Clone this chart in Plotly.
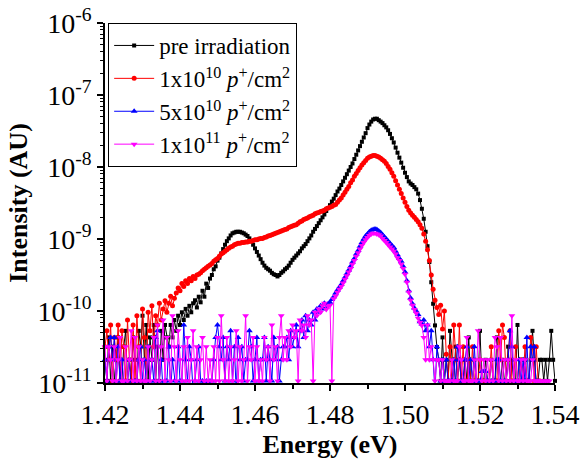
import plotly.graph_objects as go

# ---------------- data ----------------
energy_start = 1.42
energy_step = 0.0005
energy = [round(energy_start + energy_step * k, 4) for k in range(241)]

# pre irradiation
black_low = [2.1e-11, 1.07e-11, 4.3e-11, 1.07e-11, 3.2e-11, 1.07e-11, 2.1e-11, 4.3e-11, 1.07e-11, 1.07e-11,
             3.2e-11, 5.3e-11, 1.07e-11, 2.1e-11, 1.07e-11, 4.3e-11, 2.1e-11, 1.07e-11, 5.3e-11, 3.2e-11,
             8.6e-11, 2.1e-11, 6.4e-11, 1.07e-11, 4.3e-11, 2.1e-11, 6.4e-11, 1.07e-11, 3.2e-11, 1.07e-11,
             5.3e-11, 2.1e-11, 6.4e-11, 4.3e-11, 3.2e-11, 6.4e-11, 4.3e-11, 7.5e-11, 5.3e-11, 8.6e-11,
             6.4e-11, 9.6e-11, 7.5e-11, 1.07e-10, 8.6e-11, 1.18e-10, 9.6e-11, 1.28e-10]
black_band = [1.41e-10, 1.12e-10, 1.58e-10, 1.32e-10, 1.91e-10, 1.58e-10, 2.40e-10, 2.09e-10, 2.82e-10, 3.16e-10,
              3.80e-10, 4.17e-10, 5.01e-10, 5.50e-10, 6.31e-10, 7.24e-10, 8.32e-10, 9.33e-10, 1.02e-9, 1.12e-9,
              1.20e-9, 1.23e-9, 1.26e-9, 1.26e-9, 1.26e-9, 1.23e-9, 1.20e-9, 1.15e-9, 1.10e-9, 1.02e-9,
              9.33e-10, 8.32e-10, 7.41e-10, 6.61e-10, 5.89e-10, 5.25e-10, 4.68e-10, 4.27e-10, 3.98e-10, 3.80e-10,
              3.63e-10, 3.39e-10, 3.24e-10, 3.16e-10, 3.02e-10, 3.16e-10, 3.39e-10, 3.55e-10, 3.80e-10, 3.98e-10,
              4.27e-10, 4.68e-10, 5.13e-10, 5.50e-10, 5.89e-10, 6.31e-10, 6.76e-10, 7.41e-10, 7.94e-10, 8.51e-10,
              9.33e-10, 1.02e-9, 1.12e-9, 1.26e-9, 1.38e-9, 1.51e-9, 1.66e-9, 1.82e-9, 2.00e-9, 2.19e-9,
              2.45e-9, 2.69e-9, 2.95e-9, 3.31e-9, 3.63e-9, 4.07e-9, 4.57e-9, 5.01e-9, 5.62e-9, 6.31e-9,
              7.08e-9, 7.94e-9, 8.91e-9, 1.00e-8, 1.12e-8, 1.29e-8, 1.48e-8, 1.70e-8, 1.95e-8, 2.24e-8,
              2.57e-8, 2.95e-8, 3.47e-8, 3.89e-8, 4.27e-8, 4.57e-8, 4.68e-8, 4.68e-8, 4.47e-8, 4.27e-8,
              4.07e-8, 3.80e-8, 3.55e-8, 3.24e-8, 2.88e-8, 2.51e-8, 2.19e-8, 1.86e-8, 1.58e-8, 1.35e-8,
              1.15e-8, 9.77e-9, 8.32e-9, 7.24e-9, 6.31e-9, 5.89e-9, 5.62e-9, 5.25e-9, 4.90e-9, 4.27e-9,
              3.47e-9, 2.63e-9, 1.91e-9, 1.26e-9, 7.94e-10, 4.79e-10, 2.51e-10, 1.26e-10, 6.31e-11, 3.16e-11]
black_high = [2.1e-11, 1.07e-11, 4.3e-11, 1.07e-11, 2.1e-11, 1.07e-11, 5.3e-11, 2.1e-11, 1.07e-11, 3.2e-11,
              1.07e-11, 2.1e-11, 1.07e-11, 1.07e-11, 2.1e-11, 1.07e-11, 4.3e-11, 1.07e-11, 1.07e-11, 2.1e-11,
              1.07e-11, 1.07e-11, 5.3e-11, 1.07e-11, 1.07e-11, 2.1e-11, 1.07e-11, 1.07e-11, 2.1e-11, 1.07e-11,
              1.07e-11, 4.3e-11, 1.07e-11, 1.07e-11, 2.1e-11, 1.07e-11, 1.07e-11, 3.2e-11, 1.07e-11, 2.1e-11,
              1.07e-11, 1.07e-11, 6.4e-11, 1.07e-11, 2.1e-11, 1.07e-11, 2.1e-11, 1.07e-11, 1.07e-11, 2.1e-11,
              5.3e-11, 2.1e-11, 1.07e-11, 1.07e-11, 2.1e-11, 2.1e-11, 1.07e-11, 2.1e-11, 1.07e-11, 2.1e-11,
              5.3e-11, 2.1e-11, 1.07e-11]

# 1x10^10 p+/cm^2
red_low = [3.2e-11, 5.3e-11, 2.1e-11, 6.4e-11, 1.07e-11, 4.3e-11, 2.1e-11, 6.4e-11, 1.07e-11, 5.3e-11,
           3.2e-11, 1.07e-11, 7.5e-11, 2.1e-11, 1.07e-11, 6.4e-11, 1.07e-11, 8.6e-11, 3.2e-11, 1.07e-11,
           1.07e-10, 4.3e-11, 1.07e-11, 9.6e-11, 5.3e-11, 1.18e-10, 3.2e-11, 8.6e-11, 6.4e-11, 1.28e-10,
           7.5e-11, 1.07e-10, 1.39e-10, 9.6e-11, 1.28e-10, 1.6e-10, 1.18e-10, 1.5e-10]
red_band = [1.78e-10, 2.09e-10, 1.91e-10, 2.40e-10, 2.19e-10, 2.63e-10, 2.40e-10, 2.82e-10, 2.63e-10, 3.02e-10,
            2.82e-10, 3.16e-10, 3.24e-10, 3.39e-10, 3.63e-10, 3.80e-10, 3.98e-10, 4.17e-10, 4.37e-10, 4.57e-10,
            4.90e-10, 5.13e-10, 5.37e-10, 5.75e-10, 6.17e-10, 6.46e-10, 6.76e-10, 7.08e-10, 7.41e-10, 7.76e-10,
            7.94e-10, 8.32e-10, 8.51e-10, 8.71e-10, 8.71e-10, 8.91e-10, 8.91e-10, 9.12e-10, 9.12e-10, 9.33e-10,
            9.33e-10, 9.55e-10, 9.77e-10, 9.77e-10, 1.00e-9, 1.02e-9, 1.02e-9, 1.05e-9, 1.07e-9, 1.10e-9,
            1.12e-9, 1.15e-9, 1.17e-9, 1.20e-9, 1.23e-9, 1.26e-9, 1.29e-9, 1.32e-9, 1.35e-9, 1.38e-9,
            1.45e-9, 1.48e-9, 1.51e-9, 1.55e-9, 1.58e-9, 1.66e-9, 1.74e-9, 1.78e-9, 1.86e-9, 1.91e-9,
            1.95e-9, 2.04e-9, 2.09e-9, 2.14e-9, 2.24e-9, 2.29e-9, 2.34e-9, 2.40e-9, 2.45e-9, 2.51e-9,
            2.63e-9, 2.69e-9, 2.75e-9, 2.82e-9, 2.95e-9, 3.02e-9, 3.24e-9, 3.47e-9, 3.72e-9, 4.07e-9,
            4.47e-9, 4.90e-9, 5.37e-9, 6.03e-9, 6.61e-9, 7.41e-9, 8.13e-9, 8.91e-9, 9.77e-9, 1.07e-8,
            1.15e-8, 1.23e-8, 1.32e-8, 1.38e-8, 1.41e-8, 1.45e-8, 1.45e-8, 1.41e-8, 1.38e-8, 1.32e-8,
            1.26e-8, 1.20e-8, 1.12e-8, 1.02e-8, 9.33e-9, 8.32e-9, 7.41e-9, 6.46e-9, 5.62e-9, 4.90e-9,
            4.27e-9, 3.72e-9, 3.24e-9, 2.82e-9, 2.51e-9, 2.29e-9, 2.14e-9, 2.00e-9, 1.86e-9, 1.74e-9,
            1.58e-9, 1.41e-9, 1.17e-9, 9.33e-10, 7.08e-10, 5.01e-10, 3.16e-10, 2.00e-10, 1.41e-10, 1.12e-10,
            8.91e-11, 1.20e-10, 5.62e-11, 1.00e-10, 2.51e-11]
red_high = [1.07e-11, 3.2e-11, 1.07e-11, 6.4e-11, 2.1e-11, 1.07e-11, 6.4e-11, 1.07e-11, 3.2e-11, 1.07e-11,
            1.07e-11, 2.1e-11, 1.07e-11, 3.2e-11, 1.07e-11, 1.07e-11, 1.07e-11, 2.1e-11, 1.07e-11, 1.07e-11,
            1.07e-11, 1.07e-11, 1.07e-11, 3.2e-11, 1.07e-11, 1.07e-11, 1.07e-11, 5.3e-11, 2.1e-11, 6.4e-11,
            4.3e-11, 1.07e-11, 2.1e-11, 5.3e-11, 1.07e-11, 1.07e-11, 3.2e-11, 1.07e-11, 1.07e-11, 2.1e-11,
            1.07e-11, 3.2e-11, 1.07e-11, 1.07e-11, 4.3e-11, 3.2e-11, 1.07e-11, 3.2e-11, 1.07e-11, 1.07e-11]

# 5x10^10 p+/cm^2
blue_low = [2.1e-11, 1.07e-11, 3.2e-11, 4.3e-11, 2.1e-11, 4.3e-11, 1.07e-11, 3.2e-11, 1.07e-11, 2.1e-11,
            1.07e-11, 7.5e-12, 1.07e-11, 2.1e-11, 7.5e-12, 7.5e-12, 1.07e-11, 1.07e-11, 2.1e-11, 3.2e-11,
            1.07e-11, 2.1e-11, 1.07e-11, 3.2e-11, 1.07e-11, 2.1e-11, 1.07e-11, 4.3e-11, 5.3e-11, 1.07e-11,
            2.1e-11, 7.5e-12, 1.07e-11, 1.07e-11, 3.2e-11, 7.5e-12, 2.1e-11, 1.07e-11, 7.5e-12, 3.2e-11,
            1.07e-11, 1.07e-11, 6.4e-11, 2.1e-11, 1.07e-11, 3.2e-11, 2.1e-11, 7.5e-12, 1.07e-11, 2.1e-11,
            3.2e-11, 1.07e-11, 1.07e-11, 7.5e-12, 1.07e-11, 7.5e-12, 1.07e-11, 1.07e-11, 2.1e-11, 4.3e-11,
            6.4e-11, 3.2e-11, 2.1e-11, 4.3e-11, 1.07e-11, 3.2e-11, 2.1e-11, 5.3e-11, 1.07e-11, 3.2e-11,
            7.5e-12, 4.3e-11, 2.1e-11, 3.2e-11, 1.07e-11, 2.1e-11, 2.1e-11, 5.3e-11, 3.2e-11, 1.07e-11,
            2.1e-11, 4.3e-11, 1.07e-11, 2.1e-11, 2.1e-11, 4.3e-11, 1.07e-11, 3.2e-11, 2.1e-11, 1.07e-11,
            4.3e-11, 2.1e-11, 3.2e-11, 1.07e-11, 2.1e-11, 3.2e-11, 3.2e-11, 4.3e-11, 2.1e-11, 5.3e-11,
            3.2e-11, 4.3e-11, 6.4e-11, 3.2e-11, 5.3e-11, 7.5e-11, 4.3e-11, 8.6e-11, 5.3e-11, 7.5e-11,
            6.4e-11, 9.6e-11, 7.5e-11, 1.07e-10, 9.6e-11, 1.18e-10, 1.07e-10, 1.28e-10]
blue_band = [1.12e-10, 1.26e-10, 1.32e-10, 1.45e-10, 1.58e-10, 1.78e-10, 1.95e-10, 2.14e-10, 2.34e-10, 2.63e-10,
             2.95e-10, 3.31e-10, 3.72e-10, 4.17e-10, 4.79e-10, 5.37e-10, 6.17e-10, 6.92e-10, 7.94e-10, 8.91e-10,
             1.00e-9, 1.10e-9, 1.17e-9, 1.26e-9, 1.32e-9, 1.35e-9, 1.38e-9, 1.35e-9, 1.29e-9, 1.23e-9,
             1.15e-9, 1.07e-9, 1.00e-9, 9.33e-10, 8.71e-10, 8.13e-10, 7.59e-10, 6.76e-10, 6.03e-10, 5.37e-10,
             4.90e-10, 4.17e-10, 3.47e-10, 2.63e-10, 1.91e-10, 1.51e-10, 1.26e-10, 1.10e-10, 1.00e-10, 8.91e-11,
             7.08e-11, 6.61e-11]
blue_high = [7.5e-11, 5.3e-11, 6.4e-11, 3.2e-11, 5.3e-11, 2.1e-11, 7.5e-12, 3.2e-11, 2.1e-11, 1.07e-11,
             2.1e-11, 1.07e-11, 2.1e-11, 1.07e-11, 1.07e-11, 1.07e-11, 2.1e-11, 1.07e-11, 3.2e-11, 2.1e-11,
             1.07e-11, 1.07e-11, 2.1e-11, 3.2e-11, 1.07e-11, 2.1e-11, 1.07e-11, 3.2e-11, 1.07e-11, 1.07e-11,
             1.07e-11, 1.45e-11, 1.45e-11, 1.45e-11, 1.07e-11, 1.07e-11, 1.07e-11, 1.07e-11, 1.07e-11, 2.1e-11,
             2.1e-11, 1.07e-11, 1.07e-11, 1.07e-11, 1.07e-11, 2.1e-11, 5.3e-11, 3.2e-11, 1.07e-11, 1.07e-11,
             1.07e-11, 2.1e-11, 1.07e-11, 2.1e-11, 1.07e-11, 4.3e-11, 7.5e-12, 3.2e-11, 2.1e-11, 3.2e-11,
             7.5e-12, 1.07e-11]

# 1x10^11 p+/cm^2
mag_low = [3.2e-11, 1.07e-11, 3.2e-11, 2.1e-11, 1.07e-11, 3.2e-11, 1.07e-11, 2.1e-11, 4.3e-11, 1.07e-11,
           1.07e-11, 3.2e-11, 1.07e-11, 2.1e-11, 5.3e-11, 1.07e-11, 4.3e-11, 1.07e-11, 3.2e-11, 1.07e-11,
           2.1e-11, 1.07e-11, 1.07e-11, 3.2e-11, 1.07e-11, 2.1e-11, 4.3e-11, 1.07e-11, 6.4e-11, 1.07e-11,
           3.2e-11, 7.5e-11, 1.07e-11, 4.3e-11, 2.1e-11, 1.07e-11, 8.6e-11, 3.2e-11, 1.07e-11, 5.3e-11,
           2.1e-11, 1.07e-11, 3.2e-11, 1.07e-11, 4.3e-11, 1.07e-11, 2.1e-11, 5.3e-11, 1.07e-11, 3.2e-11,
           1.07e-11, 2.1e-11, 4.3e-11, 1.07e-11, 3.2e-11, 1.07e-11, 2.1e-11, 1.07e-11, 3.2e-11, 1.07e-11,
           4.3e-11, 1.07e-11, 8.6e-11, 2.1e-11, 1.07e-11, 4.3e-11, 1.07e-11, 3.2e-11, 1.07e-11, 2.1e-11,
           5.3e-11, 1.07e-11, 3.2e-11, 1.07e-11, 2.1e-11, 8.6e-11, 1.07e-11, 3.2e-11, 2.1e-11, 4.3e-11,
           1.07e-11, 3.2e-11, 1.07e-11, 2.1e-11, 1.07e-11, 4.3e-11, 2.1e-11, 3.2e-11, 1.07e-11, 6.4e-11,
           2.1e-11, 3.2e-11, 1.07e-11, 4.3e-11, 8.6e-11, 2.1e-11, 4.3e-11, 2.1e-11, 5.3e-11, 3.2e-11,
           6.4e-11, 4.3e-11, 5.3e-11, 1.07e-11, 7.5e-11, 5.3e-11, 6.4e-11, 4.3e-11, 8.6e-11, 6.4e-11,
           7.5e-11, 1.07e-11, 9.6e-11, 8.6e-11, 1.07e-10, 9.6e-11, 1.18e-10, 1.28e-10]
mag_band = [1.05e-10, 1.17e-10, 1.20e-10, 1.07e-11, 1.48e-10, 1.62e-10, 1.82e-10, 2.00e-10, 2.19e-10, 2.45e-10,
            2.75e-10, 3.09e-10, 3.47e-10, 3.89e-10, 4.47e-10, 5.01e-10, 5.75e-10, 6.46e-10, 7.24e-10, 8.13e-10,
            8.91e-10, 9.77e-10, 1.05e-9, 1.12e-9, 1.17e-9, 1.20e-9, 1.20e-9, 1.17e-9, 1.15e-9, 1.10e-9,
            1.02e-9, 9.55e-10, 8.91e-10, 8.32e-10, 7.76e-10, 7.24e-10, 6.76e-10, 6.17e-10, 5.50e-10, 5.01e-10,
            4.47e-10, 3.89e-10, 3.24e-10, 2.51e-10, 1.82e-10, 1.41e-10, 1.20e-10, 1.05e-10, 9.33e-11, 7.94e-11,
            6.92e-11, 6.31e-11]
mag_high = [4.3e-11, 2.1e-11, 6.4e-11, 2.1e-11, 3.2e-11, 2.1e-11, 1.07e-11, 2.1e-11, 2.1e-11, 1.07e-11,
            2.1e-11, 1.07e-11, 1.07e-11, 1.07e-11, 1.07e-11, 2.1e-11, 1.07e-11, 1.07e-11, 1.07e-11, 3.2e-11,
            2.1e-11, 1.07e-11, 1.07e-11, 4.3e-11, 1.07e-11, 1.07e-11, 1.07e-11, 2.1e-11, 1.07e-11, 5.3e-11,
            2.1e-11, 1.07e-11, 2.1e-11, 1.07e-11, 2.1e-11, 1.07e-11, 2.1e-11, 1.07e-11, 4.3e-11, 3.2e-11,
            1.07e-11, 4.3e-11, 1.07e-11, 2.1e-11, 1.07e-11, 2.1e-11, 1.07e-11, 8.6e-11, 1.07e-11, 2.1e-11,
            1.07e-11, 1.07e-11, 2.1e-11, 1.07e-11, 2.1e-11, 1.07e-11, 1.07e-11, 1.07e-11, 2.1e-11, 1.07e-11,
            1.07e-11, 1.07e-11, 1.07e-11, 1.07e-11, 1.07e-11, 1.07e-11, 1.07e-11, 1.07e-11]

pre_irradiation = black_low + black_band + black_high
dose_1e10 = red_low + red_band + red_high
dose_5e10 = blue_low + blue_band + blue_high
dose_1e11 = mag_low + mag_band + mag_high

series_names = ["pre irradiation",
                "1x10<sup>10</sup> <i>p</i><sup>+</sup>/cm<sup>2</sup>",
                "5x10<sup>10</sup> <i>p</i><sup>+</sup>/cm<sup>2</sup>",
                "1x10<sup>11</sup> <i>p</i><sup>+</sup>/cm<sup>2</sup>"]
series_values = [pre_irradiation, dose_1e10, dose_5e10, dose_1e11]

x_tick_vals = [1.42, 1.44, 1.46, 1.48, 1.50, 1.52, 1.54]
x_tick_text = ["1.42", "1.44", "1.46", "1.48", "1.50", "1.52", "1.54"]
x_minor_vals = [1.43, 1.45, 1.47, 1.49, 1.51, 1.53]
y_tick_vals = [1e-11, 1e-10, 1e-9, 1e-8, 1e-7, 1e-6]
y_tick_text = ["10<sup>-11</sup>", "10<sup>-10</sup>", "10<sup>-9</sup>",
               "10<sup>-8</sup>", "10<sup>-7</sup>", "10<sup>-6</sup>"]
y_minor_vals = [m * 10.0 ** e for e in range(-11, -6) for m in range(2, 10)]

# ---------------- styles ----------------
colors = ["#000000", "#ff0000", "#0000ff", "#ff00ff"]
symbols = ["square", "circle", "triangle-up", "triangle-down"]
msizes = [4, 5, 6, 6]

fig = go.Figure()
for name, vals, col, sym, ms in zip(series_names, series_values, colors, symbols, msizes):
    fig.add_trace(go.Scatter(
        x=energy[:len(vals)], y=vals, name=name, mode="lines+markers",
        line=dict(color=col, width=1),
        marker=dict(color=col, symbol=sym, size=ms, line=dict(width=0)),
        cliponaxis=False,
    ))

font_family = "Liberation Serif, Times New Roman, serif"
fig.update_layout(
    width=580, height=465,
    margin=dict(l=105, r=25, t=23, b=82, autoexpand=False),
    paper_bgcolor="white", plot_bgcolor="white",
    font=dict(family=font_family, color="black", size=28),
    legend=dict(x=0.007, y=1.0, xanchor="left", yanchor="top",
                bordercolor="black", borderwidth=1, bgcolor="white",
                font=dict(size=23, family=font_family, color="black"),
                tracegroupgap=0, itemwidth=40),
)
fig.update_xaxes(
    range=[1.42, 1.54], tickvals=x_tick_vals, ticktext=x_tick_text, automargin=False,
    ticklabeloverflow="allow",
    showline=True, linecolor="black", linewidth=1.5, mirror=False,
    ticks="outside", ticklen=6, tickwidth=1.5, tickcolor="black",
    minor=dict(tickvals=x_minor_vals, ticks="outside", ticklen=4, tickwidth=1.5, tickcolor="black"),
    showgrid=False, zeroline=False,
    tickfont=dict(size=28, family=font_family),
    title=dict(text="<b>Energy (eV)</b>", font=dict(size=26, family=font_family), standoff=4),
)
fig.update_yaxes(
    type="log", range=[-11, -6], tickvals=y_tick_vals, ticktext=y_tick_text, automargin=False,
    ticklabeloverflow="allow",
    showline=True, linecolor="black", linewidth=1.5, mirror=False,
    ticks="outside", ticklen=6, tickwidth=1.5, tickcolor="black",
    minor=dict(tickvals=y_minor_vals, ticks="outside", ticklen=3, tickwidth=1, tickcolor="black"),
    showgrid=False, zeroline=False,
    tickfont=dict(size=28, family=font_family),
    title=dict(text="<b>Intensity (AU)</b>", font=dict(size=26, family=font_family), standoff=2),
)

# remove the browser's default page margin so the figure fills the window exactly
fig.write_html("out.html", config={"displayModeBar": False},
               post_script="document.body.style.margin='0';")
